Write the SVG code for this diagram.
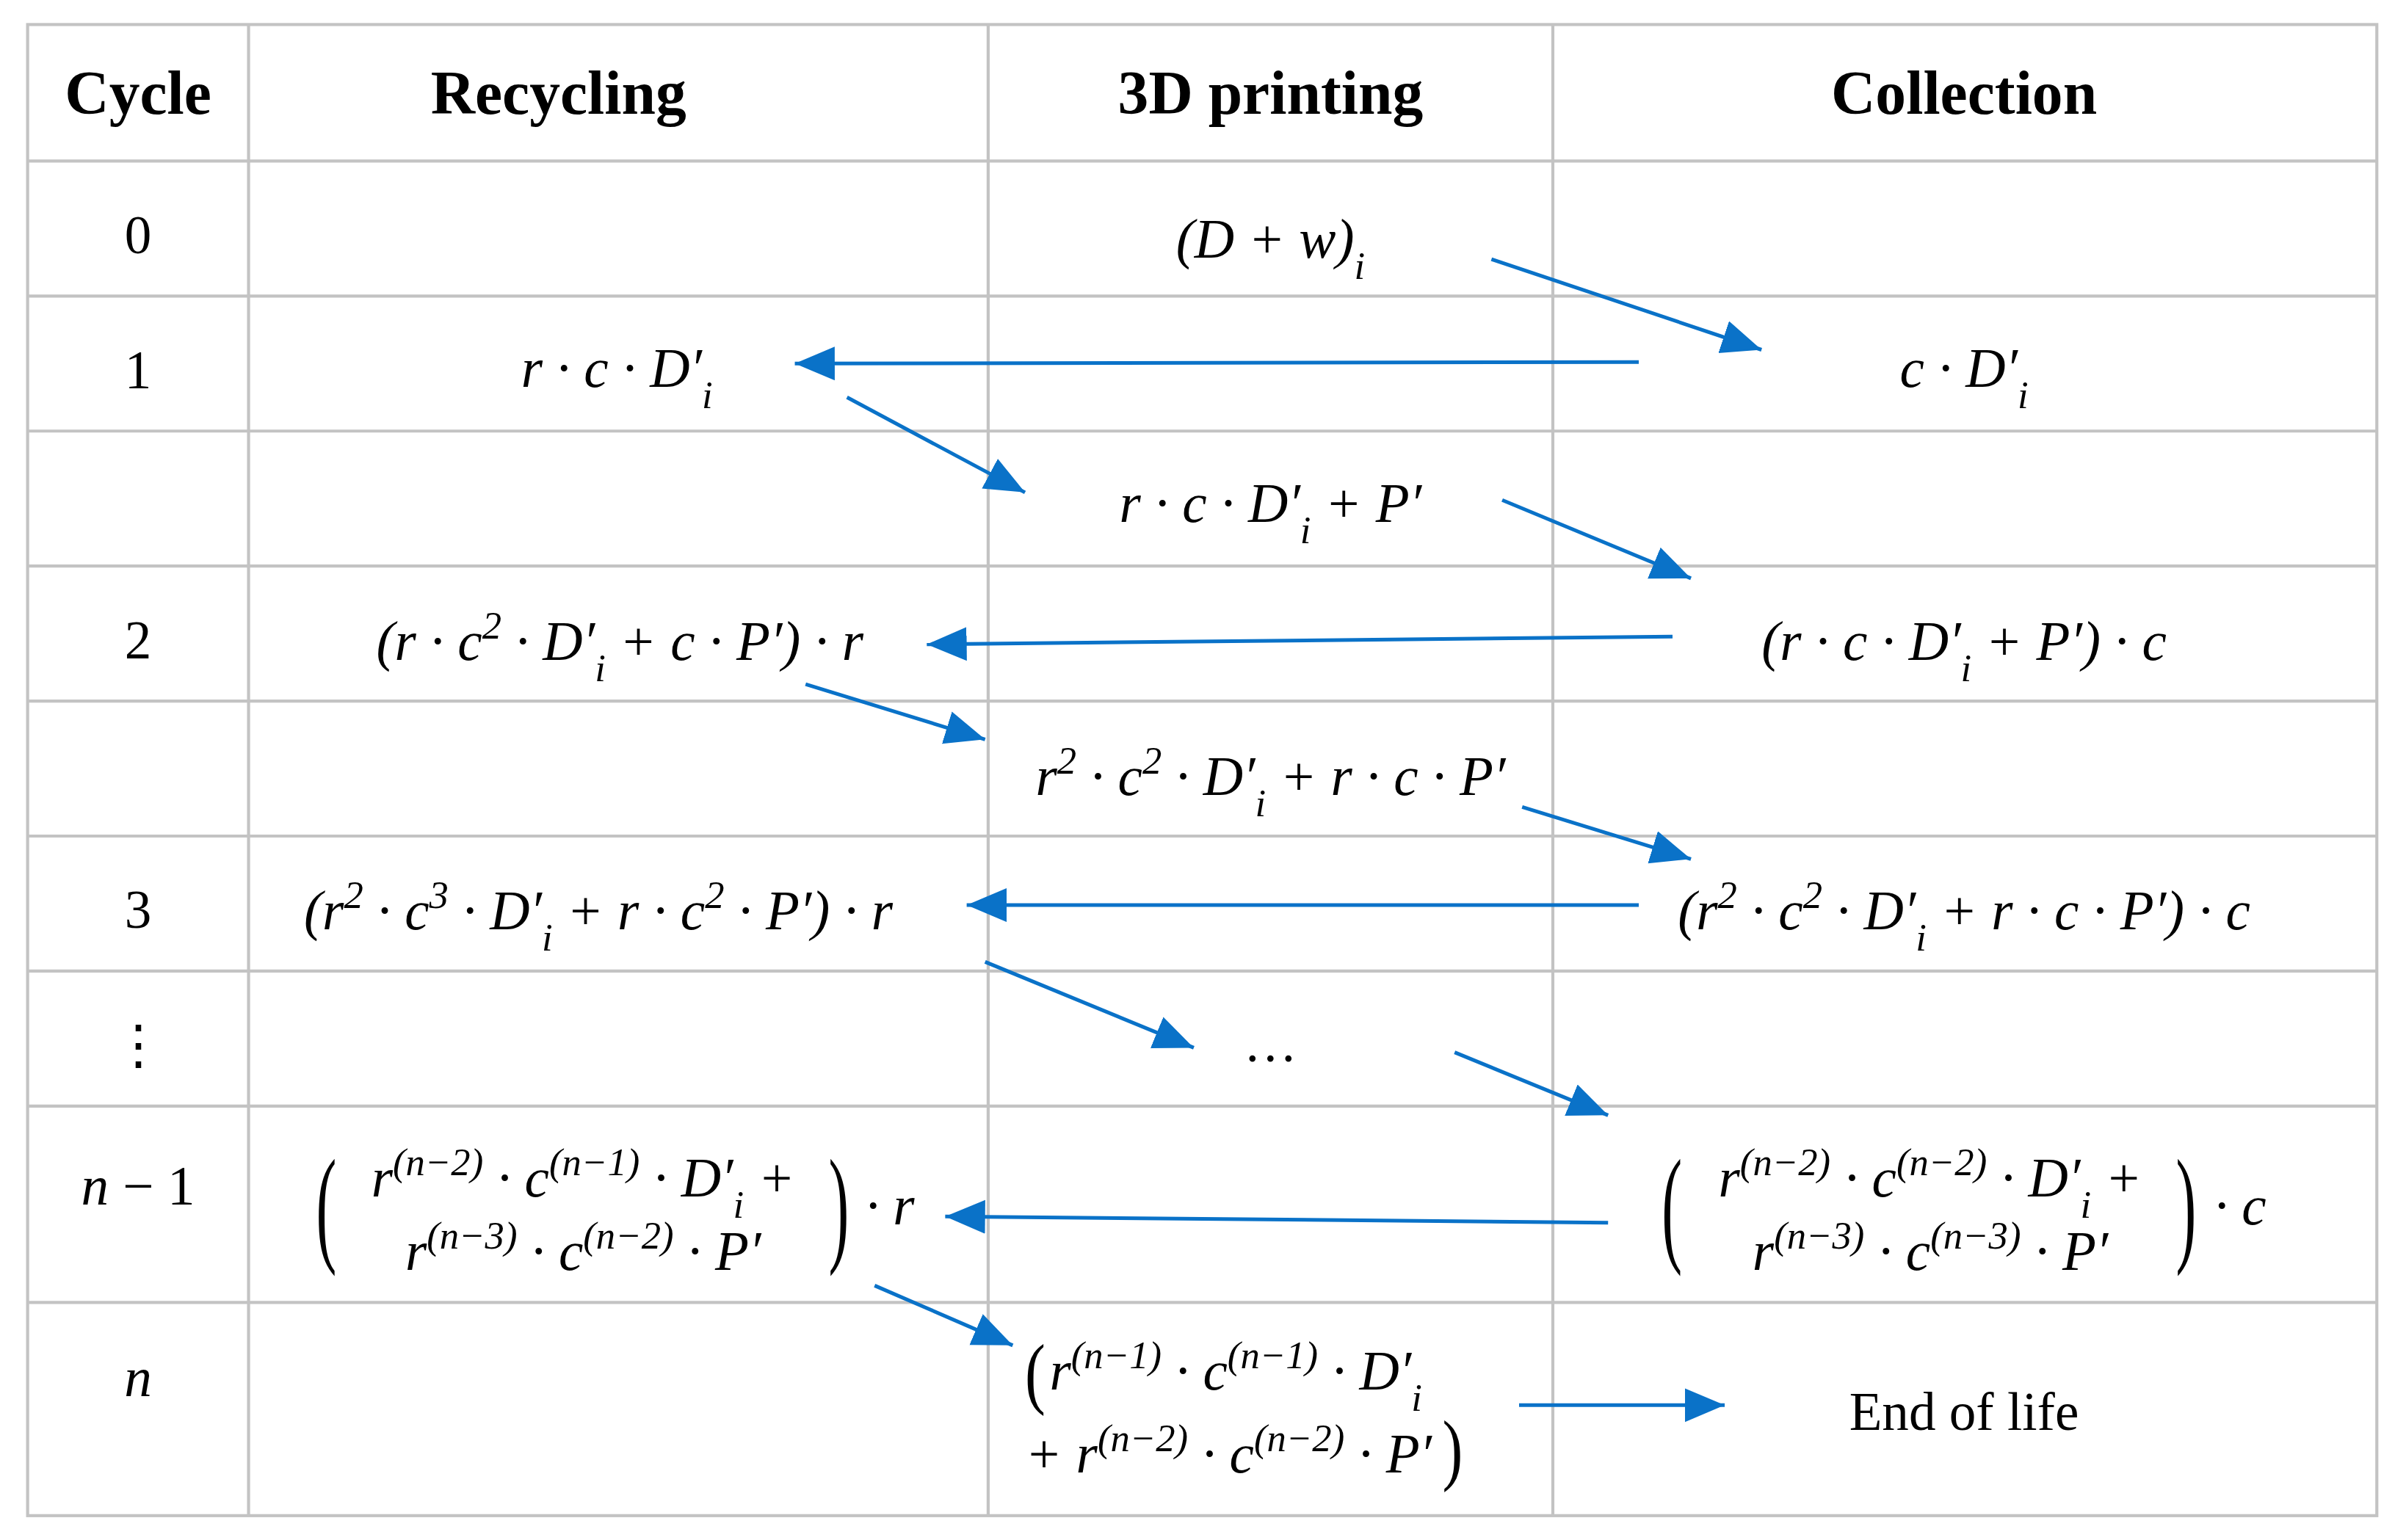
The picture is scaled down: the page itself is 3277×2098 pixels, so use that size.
<svg xmlns="http://www.w3.org/2000/svg" width="3277" height="2098" viewBox="0 0 3277 2098">
<style>
.g{stroke:#c3c3c3;stroke-width:2;fill:none}
.a{stroke:#0a72c8;stroke-width:2.4;fill:none}
.h{font-family:"Liberation Serif",serif;font-weight:bold;font-size:40px;text-anchor:middle;fill:#000}
.c{font-family:"Liberation Serif",serif;font-size:35px;text-anchor:middle;fill:#000}
.m{font-family:"Liberation Serif",serif;font-style:italic;font-size:36px;text-anchor:middle;fill:#000}
.l{text-anchor:start}
.p{font-family:"Liberation Serif",serif;font-size:40px;fill:#000}
</style>
<defs>
<marker id="ah" markerUnits="userSpaceOnUse" markerWidth="30" markerHeight="24" refX="26" refY="11" orient="auto"><path d="M0,0 L26,11 L0,22 Z" fill="#0a72c8"/></marker>
</defs>
<rect width="3277" height="2098" fill="#fff"/>
<g transform="scale(2.0899)">
<g id="grid">
<rect class="g" x="18" y="16" width="1531" height="972"/>
<line class="g" x1="162" y1="16" x2="162" y2="988"/>
<line class="g" x1="644" y1="16" x2="644" y2="988"/>
<line class="g" x1="1012" y1="16" x2="1012" y2="988"/>
<line class="g" x1="18" y1="105" x2="1549" y2="105"/>
<line class="g" x1="18" y1="193" x2="1549" y2="193"/>
<line class="g" x1="18" y1="281" x2="1549" y2="281"/>
<line class="g" x1="18" y1="369" x2="1549" y2="369"/>
<line class="g" x1="18" y1="457" x2="1549" y2="457"/>
<line class="g" x1="18" y1="545" x2="1549" y2="545"/>
<line class="g" x1="18" y1="633" x2="1549" y2="633"/>
<line class="g" x1="18" y1="721" x2="1549" y2="721"/>
<line class="g" x1="18" y1="849" x2="1549" y2="849"/>
</g>
<g id="headers">
<text class="h" x="90" y="74">Cycle</text>
<text class="h" x="364" y="74">Recycling</text>
<text class="h" x="828" y="74">3D printing</text>
<text class="h" x="1280" y="74">Collection</text>
</g>
<g id="cycles">
<text class="c" x="90" y="165">0</text>
<text class="c" x="90" y="253">1</text>
<text class="c" x="90" y="429">2</text>
<text class="c" x="90" y="605">3</text>
<text class="c" x="90" y="693">⋮</text>
<text class="m" x="90" y="785">n <tspan font-style="normal">− 1</tspan></text>
<text class="m" x="90" y="910">n</text>
</g>
<g id="n0"><text class="m" x="828" y="168">(D + w)<tspan baseline-shift="sub" font-size="70%">i</tspan></text></g>
<g id="n1r"><text class="m" x="402" y="252">r · c · D′<tspan baseline-shift="sub" font-size="70%">i</tspan></text></g>
<g id="n1c"><text class="m" x="1280" y="252">c · D′<tspan baseline-shift="sub" font-size="70%">i</tspan></text></g>
<g id="n1p"><text class="m" x="828" y="340">r · c · D′<tspan baseline-shift="sub" font-size="70%">i</tspan> + P′</text></g>
<g id="n2r"><text class="m" x="404" y="430">(r · c<tspan baseline-shift="super" font-size="70%">2</tspan> · D′<tspan baseline-shift="sub" font-size="70%">i</tspan> + c · P′) · r</text></g>
<g id="n2c"><text class="m" x="1280" y="430">(r · c · D′<tspan baseline-shift="sub" font-size="70%">i</tspan> + P′) · c</text></g>
<g id="n2p"><text class="m" x="828" y="518">r<tspan baseline-shift="super" font-size="70%">2</tspan> · c<tspan baseline-shift="super" font-size="70%">2</tspan> · D′<tspan baseline-shift="sub" font-size="70%">i</tspan> + r · c · P′</text></g>
<g id="n3r"><text class="m" x="390" y="606">(r<tspan baseline-shift="super" font-size="70%">2</tspan> · c<tspan baseline-shift="super" font-size="70%">3</tspan> · D′<tspan baseline-shift="sub" font-size="70%">i</tspan> + r · c<tspan baseline-shift="super" font-size="70%">2</tspan> · P′) · r</text></g>
<g id="n3c"><text class="m" x="1280" y="606">(r<tspan baseline-shift="super" font-size="70%">2</tspan> · c<tspan baseline-shift="super" font-size="70%">2</tspan> · D′<tspan baseline-shift="sub" font-size="70%">i</tspan> + r · c · P′) · c</text></g>
<g id="ndots"><text class="c" x="828" y="692">…</text></g>
<g id="nn1r">
<text class="p" transform="translate(206,814) scale(1,2.1)">(</text>
<text class="m" x="380" y="780">r<tspan baseline-shift="super" font-size="70%">(n−2)</tspan> · c<tspan baseline-shift="super" font-size="70%">(n−1)</tspan> · D′<tspan baseline-shift="sub" font-size="70%">i</tspan> +</text>
<text class="m" x="380" y="828">r<tspan baseline-shift="super" font-size="70%">(n−3)</tspan> · c<tspan baseline-shift="super" font-size="70%">(n−2)</tspan> · P′</text>
<text class="p" transform="translate(540,814) scale(1,2.1)">)</text>
<text class="m" x="580" y="798">· r</text>
</g>
<g id="nn1c">
<text class="p" transform="translate(1083,814) scale(1,2.1)">(</text>
<text class="m" x="1258" y="780">r<tspan baseline-shift="super" font-size="70%">(n−2)</tspan> · c<tspan baseline-shift="super" font-size="70%">(n−2)</tspan> · D′<tspan baseline-shift="sub" font-size="70%">i</tspan> +</text>
<text class="m" x="1258" y="828">r<tspan baseline-shift="super" font-size="70%">(n−3)</tspan> · c<tspan baseline-shift="super" font-size="70%">(n−3)</tspan> · P′</text>
<text class="p" transform="translate(1418,814) scale(1,2.1)">)</text>
<text class="m" x="1460" y="798">· c</text>
</g>
<g id="nnp">
<text class="p" transform="translate(668,912) scale(1,1.3)">(</text>
<text class="m l" x="684" y="906">r<tspan baseline-shift="super" font-size="70%">(n−1)</tspan> · c<tspan baseline-shift="super" font-size="70%">(n−1)</tspan> · D′<tspan baseline-shift="sub" font-size="70%">i</tspan></text>
<text class="m l" x="668" y="960">+ r<tspan baseline-shift="super" font-size="70%">(n−2)</tspan> · c<tspan baseline-shift="super" font-size="70%">(n−2)</tspan> · P′</text>
<text class="p" transform="translate(940,962) scale(1,1.3)">)</text>
</g>
<g id="neol"><text class="c" x="1280" y="932">End of life</text></g>
<g id="connectors">
<line class="a" marker-end="url(#ah)" x1="972" y1="169" x2="1148" y2="228"/>
<line class="a" marker-end="url(#ah)" x1="1068" y1="236" x2="518" y2="237"/>
<line class="a" marker-end="url(#ah)" x1="552" y1="259" x2="668" y2="321"/>
<line class="a" marker-end="url(#ah)" x1="979" y1="326" x2="1102" y2="377"/>
<line class="a" marker-end="url(#ah)" x1="1090" y1="415" x2="604" y2="420"/>
<line class="a" marker-end="url(#ah)" x1="525" y1="446" x2="642" y2="482"/>
<line class="a" marker-end="url(#ah)" x1="992" y1="526" x2="1102" y2="560"/>
<line class="a" marker-end="url(#ah)" x1="1068" y1="590" x2="630" y2="590"/>
<line class="a" marker-end="url(#ah)" x1="642" y1="627" x2="778" y2="683"/>
<line class="a" marker-end="url(#ah)" x1="948" y1="686" x2="1048" y2="727"/>
<line class="a" marker-end="url(#ah)" x1="1048" y1="797" x2="616" y2="793"/>
<line class="a" marker-end="url(#ah)" x1="570" y1="838" x2="660" y2="877"/>
<line class="a" marker-end="url(#ah)" x1="990" y1="916" x2="1124" y2="916"/>
</g>
</g>
</svg>
